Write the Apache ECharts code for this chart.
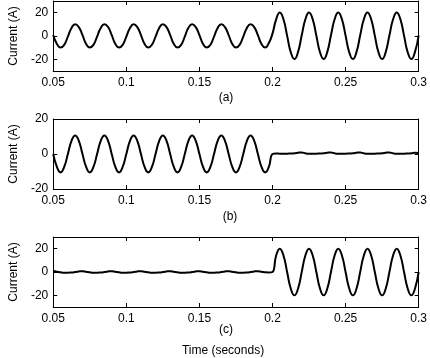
<!DOCTYPE html>
<html>
<head>
<meta charset="utf-8">
<script src="https://cdn.jsdelivr.net/npm/echarts@6/dist/echarts.min.js"></script>
<style>
html, body { margin: 0; padding: 0; background: #fff; }
#chart { width: 430px; height: 358px; }
</style>
</head>
<body>
<div id="chart"></div>
<script>
// sample times (s)
var times = [
  0.05, 0.0525, 0.055, 0.0575, 0.06, 0.0625, 0.065, 0.0675, 0.07, 0.0725,
  0.075, 0.0775, 0.08, 0.0825, 0.085, 0.0875, 0.09, 0.0925, 0.095, 0.0975,
  0.1, 0.1025, 0.105, 0.1075, 0.11, 0.1125, 0.115, 0.1175, 0.12, 0.1225,
  0.125, 0.1275, 0.13, 0.1325, 0.135, 0.1375, 0.14, 0.1425, 0.145, 0.1475,
  0.15, 0.1525, 0.155, 0.1575, 0.16, 0.1625, 0.165, 0.1675, 0.17, 0.1725,
  0.175, 0.1775, 0.18, 0.1825, 0.185, 0.1875, 0.19, 0.1925, 0.195, 0.1975,
  0.2, 0.2025, 0.205, 0.2075, 0.21, 0.2125, 0.215, 0.2175, 0.22, 0.2225,
  0.225, 0.2275, 0.23, 0.2325, 0.235, 0.2375, 0.24, 0.2425, 0.245, 0.2475,
  0.25, 0.2525, 0.255, 0.2575, 0.26, 0.2625, 0.265, 0.2675, 0.27, 0.2725,
  0.275, 0.2775, 0.28, 0.2825, 0.285, 0.2875, 0.29, 0.2925, 0.295, 0.2975,
  0.3
];

// (a) total current
var currentA = [
  0.8, -6.9, -9.9, -7.6, -0.5, 6.9, 10.1, 7.6,
  0.8, -6.9, -9.8, -7.6, -0.5, 6.9, 10.1, 7.7,
  0.8, -6.9, -9.9, -7.6, -0.5, 6.9, 10.0, 7.6,
  0.8, -6.9, -9.9, -7.5, -0.5, 6.9, 10.1, 7.6,
  0.8, -6.9, -9.9, -7.6, -0.5, 7.0, 10.1, 7.6,
  0.8, -6.9, -9.8, -7.6, -0.5, 6.9, 10.1, 7.6,
  0.8, -6.9, -9.9, -7.6, -0.5, 6.9, 10.1, 7.6,
  0.7, -6.9, -9.9, -6.0,
  2.0, 14.3, 20.2, 14.3, 0.3, -13.9, -19.8, -13.6,
  0.6, 14.3, 20.2, 14.3, 0.3, -13.9, -19.8, -13.6,
  0.6, 14.3, 20.2, 14.3, 0.3, -13.9, -19.8, -13.6,
  0.6, 14.3, 20.2, 14.3, 0.3, -13.9, -19.8, -13.6,
  0.6, 14.3, 20.2, 14.3, 0.3, -13.9, -19.8, -13.6,
  0.5
];

// (b) first component
var currentB = [
  0, -7.4, -10.5, -7.4, 0, 7.5, 10.6, 7.5,
  0, -7.4, -10.5, -7.4, 0, 7.5, 10.6, 7.5,
  0, -7.4, -10.5, -7.4, 0, 7.5, 10.6, 7.5,
  0, -7.4, -10.5, -7.4, 0, 7.5, 10.6, 7.5,
  0, -7.4, -10.5, -7.4, 0, 7.5, 10.6, 7.5,
  0, -7.4, -10.5, -7.4, 0, 7.5, 10.6, 7.5,
  0, -7.4, -10.5, -7.4, 0, 7.5, 10.6, 7.5,
  0, -7.4, -10.5, -7.4,
  0, 0.3, 0.2, 0.2, 0.2, 0.3, 0.4, 0.7,
  0.9, 0.4, 0.2, 0.2, 0.2, 0.3, 0.4, 0.7,
  0.9, 0.4, 0.2, 0.2, 0.2, 0.3, 0.4, 0.7,
  0.9, 0.4, 0.2, 0.2, 0.2, 0.3, 0.4, 0.7,
  0.9, 0.4, 0.2, 0.2, 0.2, 0.3, 0.4, 0.7,
  0.6
];

// (c) second component
var currentC = [
  0.8, 0.3, -0.3, -0.6, -0.6, -0.4, 0, 0.5,
  0.7, 0.3, -0.3, -0.6, -0.6, -0.4, 0, 0.5,
  0.7, 0.3, -0.3, -0.6, -0.6, -0.4, 0, 0.5,
  0.7, 0.3, -0.3, -0.6, -0.6, -0.4, 0, 0.5,
  0.7, 0.3, -0.3, -0.6, -0.6, -0.4, 0, 0.5,
  0.7, 0.3, -0.3, -0.6, -0.6, -0.4, 0, 0.5,
  0.7, 0.3, -0.3, -0.6, -0.6, -0.4, 0, 0.5,
  0.7, 0.3, -0.3, -0.4,
  0, 14.1, 20, 14.1, 0, -14.1, -20, -14.1,
  0, 14.1, 20, 14.1, 0, -14.1, -20, -14.1,
  0, 14.1, 20, 14.1, 0, -14.1, -20, -14.1,
  0, 14.1, 20, 14.1, 0, -14.1, -20, -14.1,
  0, 14.1, 20, 14.1, 0, -14.1, -20, -14.1,
  0
];

var xTicks = [0.05, 0.1, 0.15, 0.2, 0.25, 0.3];
var yTicks = [-20, 0, 20];
var panelLabels = ['(a)', '(b)', '(c)'];

var font = 'Liberation Sans, Arial, sans-serif';
var grids = [
  { left: 42, top: 1, width: 379, height: 70 },
  { left: 42, top: 119, width: 379, height: 70 },
  { left: 42, top: 237, width: 379, height: 70 }
];
var yRanges = [[-30, 30], [-20, 20], [-30, 30]];
var signals = [currentA, currentB, currentC];

function pairs(vals) {
  return times.map(function (t, i) { return [t, vals[i]]; });
}

var axisLine = { show: true, onZero: false, lineStyle: { color: '#000', width: 1 } };
var tick = { show: true, inside: true, length: 4, lineStyle: { color: '#000' } };

var xAxes = [], yAxes = [], series = [];
grids.forEach(function (g, k) {
  xAxes.push({
    type: 'value', gridIndex: k, min: 0.05, max: 0.3, position: 'bottom',
    axisLine: axisLine, axisTick: Object.assign({ customValues: xTicks }, tick), splitLine: { show: false },
    axisLabel: {
      customValues: xTicks, color: '#000', fontFamily: font, fontSize: 12, margin: 6,
      formatter: function (v) { return String(+v.toFixed(3)); }
    }
  });
  xAxes.push({
    type: 'value', gridIndex: k, min: 0.05, max: 0.3, position: 'top',
    axisLine: axisLine, axisTick: Object.assign({ customValues: xTicks }, tick),
    axisLabel: { show: false }, splitLine: { show: false }
  });
  yAxes.push({
    type: 'value', gridIndex: k, min: yRanges[k][0], max: yRanges[k][1], position: 'left',
    axisLine: axisLine, axisTick: Object.assign({ customValues: yTicks }, tick), splitLine: { show: false },
    axisLabel: { customValues: yTicks, color: '#000', fontFamily: font, fontSize: 12, margin: 5 },
    name: 'Current (A)', nameLocation: 'middle', nameRotate: 90, nameGap: 27,
    nameTextStyle: { color: '#000', fontFamily: font, fontSize: 12 }
  });
  yAxes.push({
    type: 'value', gridIndex: k, min: yRanges[k][0], max: yRanges[k][1], position: 'right',
    axisLine: axisLine, axisTick: Object.assign({ customValues: yTicks }, tick),
    axisLabel: { show: false }, splitLine: { show: false }
  });
  series.push({
    type: 'line', xAxisIndex: k * 2, yAxisIndex: k * 2,
    data: pairs(signals[k]), smooth: true, showSymbol: false, animation: false,
    lineStyle: { color: '#000', width: 2 }
  });
});

var labelPos = [[226, 98], [230, 217], [226, 330]];
var graphics = panelLabels.map(function (s, k) {
  return {
    type: 'text', x: labelPos[k][0], y: labelPos[k][1],
    style: { text: s, fill: '#000', font: '12px ' + font, textAlign: 'center', textVerticalAlign: 'middle' }
  };
});
graphics.push({
  type: 'text', x: 223, y: 351,
  style: { text: 'Time (seconds)', fill: '#000', font: '12px ' + font, textAlign: 'center', textVerticalAlign: 'middle' }
});

var myChart = echarts.init(document.getElementById('chart'));
myChart.setOption({
  backgroundColor: '#fff',
  animation: false,
  grid: grids,
  xAxis: xAxes,
  yAxis: yAxes,
  series: series,
  graphic: graphics
});
</script>
</body>
</html>
